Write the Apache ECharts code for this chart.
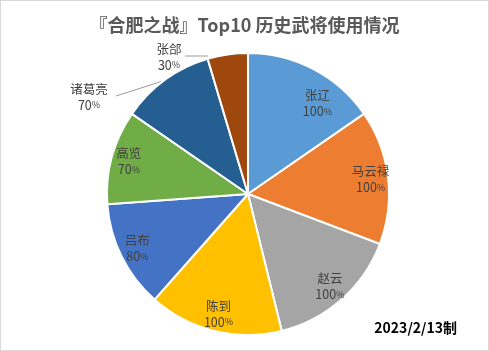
<!DOCTYPE html>
<html lang="zh">
  <head>
    <meta charset="UTF-8" />
    <title>合肥之战 Top10</title>
    <script src="https://cdn.jsdelivr.net/npm/echarts@6/dist/echarts.min.js"></script>
    <style>
      html,
      body {
        margin: 0;
        padding: 0;
        background: #fff;
      }
      #main {
        width: 489px;
        height: 351px;
        box-sizing: border-box;
        border: 1px solid #d9d9d9;
      }
    </style>
  </head>
  <body>
    <div id="main"></div>
    <script type="text/javascript">
      // 武将名与使用率
      var names = ["张辽", "马云禄", "赵云", "陈到", "吕布", "高览", "诸葛亮", "张郃"];
      var values = [100, 100, 100, 100, 80, 70, 70, 30];
      var colors = ["#5b9bd5", "#ed7d31", "#a5a5a5", "#ffc000", "#4472c4", "#70ad47", "#255e91", "#9e480e"];
      // 标签放在外面的
      var outside = ["诸葛亮", "张郃"];

      var font = "'Noto Sans CJK SC', sans-serif";
      var rich = {
        n: { fontSize: 12.5, color: "#404040", fontFamily: font, lineHeight: 16 },
        p: { fontSize: 9, color: "#404040", fontFamily: font }
      };
      function fmt(p) {
        return "{n|" + p.name + "}\n{n|" + p.value + "}{p|%}";
      }

      var pieData = names.map(function (n, i) {
        var item = { name: n, value: values[i], itemStyle: { color: colors[i] } };
        if (outside.indexOf(n) >= 0) {
          item.label = { show: true, position: "outside" };
          item.labelLine = { show: true };
        }
        return item;
      });
      // 透明的一层，只用来放里面的标签
      var labelData = names.map(function (n, i) {
        return {
          name: n,
          value: values[i],
          label: { show: outside.indexOf(n) < 0 }
        };
      });

      var myChart = echarts.init(document.getElementById("main"));
      var option = {
        animation: false,
        title: [
          {
            text: "『合肥之战』Top10 历史武将使用情况",
            left: "center",
            top: 10,
            textStyle: { fontSize: 18, fontWeight: "bold", color: "#595959", fontFamily: font }
          },
          {
            text: "2023/2/13制",
            right: 26,
            top: 315,
            textStyle: { fontSize: 14, fontWeight: "bold", color: "#000", fontFamily: font }
          }
        ],
        series: [
          {
            type: "pie",
            center: [247, 193],
            radius: [0, 141],
            startAngle: 90,
            clockwise: true,
            silent: true,
            itemStyle: { borderColor: "#fff", borderWidth: 2 },
            label: { show: false, formatter: fmt, rich: rich, align: "center" },
            labelLine: { show: false, length: 6, length2: 40, lineStyle: { color: "#9a9a9a", width: 1 } },
            // 外面两个标签挪到左边，引导线也跟着改
            labelLayout: function (p) {
              if (p.dataIndex === 6) {
                return {
                  x: 88, y: 96, align: "center", verticalAlign: "middle",
                  labelLinePoints: [[165, 79], [140, 87], [115, 95]]
                };
              }
              if (p.dataIndex === 7) {
                return {
                  x: 168, y: 56, align: "center", verticalAlign: "middle",
                  labelLinePoints: [[207, 55], [195, 55], [184, 55]]
                };
              }
            },
            data: pieData
          },
          {
            type: "pie",
            center: [247, 193],
            radius: [100, 141],
            startAngle: 90,
            clockwise: true,
            silent: true,
            itemStyle: { color: "rgba(0,0,0,0)" },
            label: { position: "inside", formatter: fmt, rich: rich, align: "center" },
            labelLine: { show: false },
            // 张辽的标签往下挪一点
            labelLayout: function (p) {
              if (p.dataIndex === 0) {
                return { dx: 12, dy: 19 };
              }
            },
            data: labelData
          }
        ]
      };
      myChart.setOption(option);
    </script>
  </body>
</html>
